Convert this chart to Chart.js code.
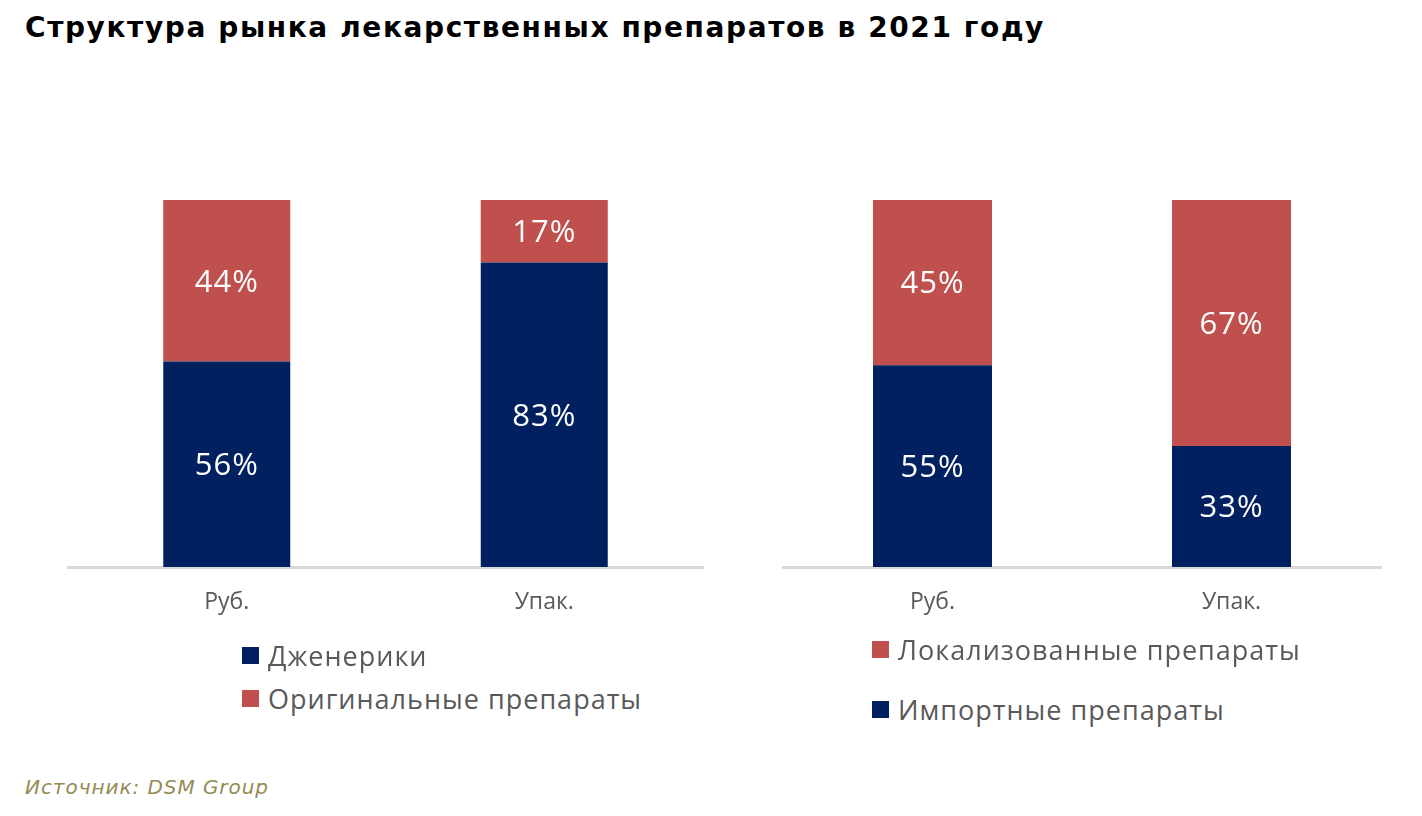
<!DOCTYPE html>
<html lang="ru">
<head>
<meta charset="utf-8">
<script src="https://cdn.jsdelivr.net/npm/chart.js@4"></script>
<style>
  html, body { margin: 0; padding: 0; background: #fff; }
  body { width: 1422px; height: 816px; position: relative; overflow: hidden; font-family: "Open Sans", sans-serif; }
  #title { position: absolute; left: 25px; top: 11px; font-family: "DejaVu Sans", Verdana, sans-serif; font-weight: bold; font-size: 28px; letter-spacing: 1.6px; color: #000; white-space: nowrap; }
  #source { position: absolute; left: 25px; top: 775px; font-family: "DejaVu Sans", Verdana, sans-serif; font-style: italic; font-size: 20px; letter-spacing: 0.95px; color: #948A54; white-space: nowrap; }
  .cw { position: absolute; top: 100px; height: 540px; }
  #w1 { left: 0; width: 711px; }
  #w2 { left: 711px; width: 711px; }
  .legend { position: absolute; font-family: "Open Sans", sans-serif; font-size: 27px; letter-spacing: 1px; color: #595959; }
  .legend .item { position: absolute; left: 0; white-space: nowrap; display: flex; align-items: center; }
  .legend .sw { width: 17px; height: 17px; margin-right: 9px; flex: none; }
</style>
</head>
<body>
<div id="title">Структура рынка лекарственных препаратов в 2021 году</div>
<div class="cw" id="w1"><canvas id="c1"></canvas></div>
<div class="cw" id="w2"><canvas id="c2"></canvas></div>
<div class="legend" id="leg1" style="left:242px; top:637px;"></div>
<div class="legend" id="leg2" style="left:872px; top:631px;"></div>
<div id="source">Источник: DSM Group</div>
<script>
// ---- data ----
const categories = ["Руб.", "Упак."];
const genericsLabel = "Дженерики";
const originalsLabel = "Оригинальные препараты";
const generics = [56, 83];
const originals = [44, 17];
const importLabel = "Импортные препараты";
const localLabel = "Локализованные препараты";
const imported = [55, 33];
const localized = [45, 67];

const NAVY = "#002060";
const RED = "#C0504D";

const dataLabels = {
  id: "dataLabels",
  afterDatasetsDraw(chart) {
    const ctx = chart.ctx;
    ctx.save();
    ctx.fillStyle = "#ffffff";
    ctx.font = "31px 'Open Sans', sans-serif";
    try { ctx.letterSpacing = "1px"; } catch (e) {}
    ctx.textAlign = "center";
    ctx.textBaseline = "middle";
    chart.data.datasets.forEach((ds, i) => {
      const meta = chart.getDatasetMeta(i);
      meta.data.forEach((el, j) => {
        const p = el.getCenterPoint();
        ctx.fillText(ds.data[j] + "%", p.x, p.y + 2);
      });
    });
    ctx.restore();
  }
};

function makeChart(id, datasets, padLeft, padRight) {
  return new Chart(document.getElementById(id), {
    type: "bar",
    data: { labels: categories, datasets },
    options: {
      responsive: true,
      maintainAspectRatio: false,
      animation: false,
      layout: { padding: { top: 100, left: padLeft, right: padRight, bottom: 0 } },
      plugins: { legend: { display: false }, tooltip: { enabled: false } },
      scales: {
        x: {
          stacked: true,
          grid: { display: false, drawTicks: false },
          border: { display: true, color: "#D9D9D9", width: 3 },
          ticks: { color: "#595959", font: { family: "'Open Sans', sans-serif", size: 23 }, padding: 22 },
          afterFit(scale) { scale.height = 73; }
        },
        y: { stacked: true, display: false, min: 0, max: 100 }
      }
    },
    plugins: [dataLabels]
  });
}

makeChart("c1", [
  { label: genericsLabel, data: generics, backgroundColor: NAVY, categoryPercentage: 1, barPercentage: 0.4 },
  { label: originalsLabel, data: originals, backgroundColor: RED, categoryPercentage: 1, barPercentage: 0.4 }
], 68, 8);

makeChart("c2", [
  { label: importLabel, data: imported, backgroundColor: NAVY, categoryPercentage: 1, barPercentage: 0.398 },
  { label: localLabel, data: localized, backgroundColor: RED, categoryPercentage: 1, barPercentage: 0.398 }
], 72, 41);

function buildLegend(id, items, pitch) {
  const el = document.getElementById(id);
  items.forEach((it, i) => {
    const d = document.createElement("div");
    d.className = "item";
    d.style.top = (i * pitch) + "px";
    d.innerHTML = '<span class="sw" style="background:' + it.color + '"></span><span></span>';
    d.lastChild.textContent = it.label;
    el.appendChild(d);
  });
}
buildLegend("leg1", [{ label: genericsLabel, color: NAVY }, { label: originalsLabel, color: RED }], 43);
buildLegend("leg2", [{ label: localLabel, color: RED }, { label: importLabel, color: NAVY }], 60);
</script>
</body>
</html>
